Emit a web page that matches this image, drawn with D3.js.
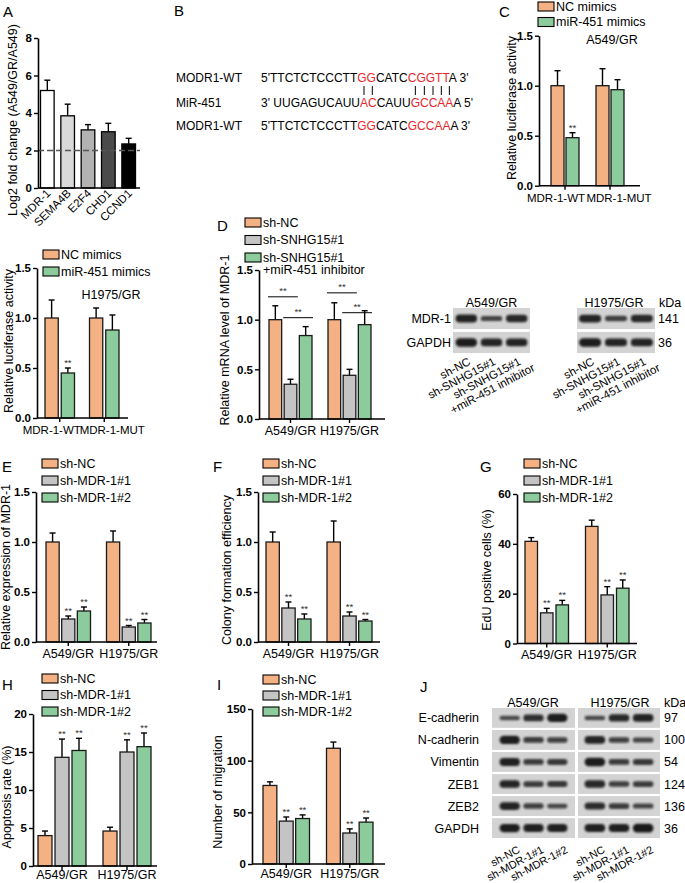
<!DOCTYPE html>
<html><head><meta charset="utf-8">
<script src="https://cdn.jsdelivr.net/npm/d3@7"></script>
<style>body{margin:0;background:#fff} text{font-family:"Liberation Sans",Arial,Helvetica,sans-serif}</style>
</head><body><svg id="c" width="685" height="883"></svg>
<script>
// ---------------- DATA ----------------
const catsA = ["MDR-1","SEMA4B","E2F4","CHD1","CCND1"];
const valsA = [5.2,3.85,3.1,3.0,2.35];
const errsA = [0.55,0.62,0.28,0.45,0.3];
const colorsA = ["#ffffff","#d9d9d9","#b2b2b2","#4a4a4a","#000000"];
const ticksA = [0,2,4,6,8];
const thresholdA = 2;

const seqNames = ["MODR1-WT","MiR-451","MODR1-WT"];
const seqParts = [
  [["5'TTCTCTCCCTT",0],["GG",1],["CATC",0],["CGGTT",1],["A 3'",0]],
  [["3' UUGAGUCAUU",0],["AC",1],["CAUU",0],["GCCAA",1],["A 5'",0]],
  [["5'TTCTCTCCCTT",0],["GG",1],["CATC",0],["GCCAA",1],["A 3'",0]]
];

const lucCats = ["MDR-1-WT","MDR-1-MUT"];
const mimicSeries = ["NC mimics","miR-451 mimics"];
const lucA549 = [[1.0,0.48],[1.0,0.96]];
const lucA549Err = [[0.15,0.05],[0.17,0.10]];
const lucA549Sig = [[0,1],[0,0]];
const lucH1975 = [[1.0,0.45],[1.0,0.88]];
const lucH1975Err = [[0.18,0.05],[0.10,0.15]];
const lucH1975Sig = [[0,1],[0,0]];

const cellCats = ["A549/GR","H1975/GR"];
const snhgSeries = ["sh-NC","sh-SNHG15#1","sh-SNHG15#1|+miR-451 inhibitor"];
const mrnaD = [[1.0,0.35,0.84],[1.0,0.44,0.95]];
const mrnaDErr = [[0.14,0.05,0.09],[0.17,0.06,0.14]];
const mrnaDBrackets = [[[0,1,1.23],[1,2,1.02]],[[0,1,1.27],[1,2,1.07]]];

const mdrSeries = ["sh-NC","sh-MDR-1#1","sh-MDR-1#2"];
const sigMDR = [[0,1,1],[0,1,1]];
const exprE = [[1.0,0.23,0.31],[1.0,0.15,0.19]];
const exprEErr = [[0.09,0.03,0.04],[0.11,0.015,0.035]];
const colonyF = [[1.0,0.34,0.23],[1.0,0.26,0.21]];
const colonyFErr = [[0.10,0.06,0.05],[0.21,0.04,0.015]];
const eduG = [[41,12.3,15.5],[47,19.5,22.2]];
const eduGErr = [[1.5,1.8,1.8],[2.5,3.3,3.3]];
const apopH = [[4.0,14.3,15.2],[4.6,15.0,15.7]];
const apopHErr = [[0.6,2.4,1.6],[0.5,1.6,1.8]];
const migI = [[76,41.5,44],[112,30,40.5]];
const migIErr = [[3.5,4,3.5],[6,4,4]];

const seriesColors = ["#f4b183","#c4c4c4","#8ccb9b"];

const blotDRows = ["MDR-1","GAPDH"];
const blotDkDa = ["141","36"];
const blotDLanes = ["sh-NC","sh-SNHG15#1","sh-SNHG15#1|+miR-451 inhibitor"];
const blotDA549 = [[0.85,0.4,0.75],[0.9,0.8,0.8]];
const blotDH1975 = [[0.8,0.45,0.75],[0.9,0.8,0.8]];

const blotJRows = ["E-cadherin","N-cadherin","Vimentin","ZEB1","ZEB2","GAPDH"];
const blotJkDa = ["97","100","54","124","136","36"];
const blotJLanes = ["sh-NC","sh-MDR-1#1","sh-MDR-1#2"];
const blotJA549 = [[0.3,0.65,0.9],[0.9,0.5,0.45],[0.85,0.5,0.55],[0.8,0.5,0.55],[0.8,0.45,0.35],[0.9,0.85,0.85]];
const blotJH1975 = [[0.3,0.75,0.8],[0.8,0.45,0.4],[0.9,0.5,0.55],[0.75,0.45,0.5],[0.7,0.5,0.4],[0.85,0.85,0.95]];

// ---------------- SETUP ----------------
const svg = d3.select("#c");
svg.append("rect").attr("width",685).attr("height",883).attr("fill","#fff");
const defs = svg.append("defs");
defs.append("filter").attr("id","blur").attr("x","-30%").attr("y","-80%").attr("width","160%").attr("height","260%")
  .append("feGaussianBlur").attr("stdDeviation",0.9);

function text(g,x,y,s,o={}){
  return g.append("text").attr("x",x).attr("y",y).text(s)
    .attr("font-size",o.size||12).attr("text-anchor",o.anchor||"start")
    .attr("font-weight",o.weight||"normal").attr("fill",o.fill||"#000");
}
function vlabel(x,y,s,size){
  svg.append("text").attr("transform",`translate(${x},${y}) rotate(-90)`).attr("text-anchor","middle")
    .attr("font-size",size||12.5).text(s);
}
function styleAxis(ag){
  ag.selectAll(".domain").attr("stroke","#000").attr("stroke-width",1.6);
  ag.selectAll(".tick line").attr("stroke","#000").attr("stroke-width",1.4);
  ag.selectAll(".tick text").attr("font-size",11.5).attr("font-weight","bold").attr("fill","#000")
    .attr("font-family",'"Liberation Sans",Arial,sans-serif');
}
function legend(x,y,dy,items,colors){
  items.forEach((t,i)=>{
    const yy=y+i*dy;
    svg.append("rect").attr("x",x).attr("y",yy).attr("width",16).attr("height",9)
      .attr("fill",colors[i]).attr("stroke","#000").attr("stroke-width",1.1);
    const lines=t.split("|");
    text(svg,x+18,yy+8.5,lines[0],{size:12.5});
    if(lines[1]) text(svg,x+18,yy+8.5+12.5,lines[1],{size:12.5});
  });
}
function letter(x,y,s){ text(svg,x,y,s,{size:15}); }

function barPanel(o){
  const g=svg.append("g");
  const y=d3.scaleLinear().domain([0,o.max]).range([o.y0,o.y1]);
  const n=o.cats.length, m=o.vals[0].length;
  const bw=(o.gx1-o.gx0-(n-1)*o.ggap)/n;
  const x=d3.scaleBand().domain(o.cats).range([o.gx0,o.gx1]).paddingInner(o.ggap/(bw+o.ggap)).paddingOuter(0);
  const barW=(bw-(m-1)*o.bgap)/m;
  const xi=d3.scaleBand().domain(d3.range(m)).range([0,bw]).paddingInner(o.bgap/(barW+o.bgap)).paddingOuter(0);
  o.cats.forEach((c,ci)=>{
    o.vals[ci].forEach((v,si)=>{
      const bx=x(c)+xi(si), cx=bx+barW/2, e=o.errs[ci][si];
      g.append("line").attr("x1",cx).attr("x2",cx).attr("y1",y(v)).attr("y2",y(v+e)).attr("stroke","#000").attr("stroke-width",1.4);
      g.append("line").attr("x1",cx-3).attr("x2",cx+3).attr("y1",y(v+e)).attr("y2",y(v+e)).attr("stroke","#000").attr("stroke-width",1.4);
      g.append("rect").attr("x",bx).attr("y",y(v)).attr("width",barW).attr("height",o.y0-y(v))
        .attr("fill",o.colors[si]).attr("stroke","#1a1a1a").attr("stroke-width",1.3);
      if(o.sig && o.sig[ci][si]) text(g,cx,y(v+e)-2,"**",{size:9.5,anchor:"middle",fill:"#333"});
    });
    if(o.brackets){
      o.brackets[ci].forEach(([a,b,lv])=>{
        const xa=x(c)+xi(a)-1, xb=x(c)+xi(b)+barW+1, yy=y(lv);
        g.append("line").attr("x1",xa).attr("x2",xb).attr("y1",yy).attr("y2",yy).attr("stroke","#000").attr("stroke-width",1);
        text(g,(xa+xb)/2,yy-3,"**",{size:9.5,anchor:"middle",fill:"#333"});
      });
    }
  });
  const ya=g.append("g").attr("transform",`translate(${o.ax0},0)`)
    .call(d3.axisLeft(y).tickValues(o.ticks).tickFormat(o.fmt||d3.format(".1f")).tickSize(4).tickSizeOuter(0).tickPadding(2));
  styleAxis(ya);
  const xa=g.append("g").attr("transform",`translate(0,${o.y0})`)
    .call(d3.axisBottom(x).tickSize(4).tickSizeOuter(0).tickFormat(()=>""));
  xa.select(".domain").attr("d",`M${o.ax0},0H${o.ax1}`);
  styleAxis(xa);
  o.cats.forEach((c,ci)=>text(g,x(c)+bw/2+(o.labOff?o.labOff[ci]:0),o.y0+(o.labDy||16),c,{size:o.labSize||12.5,anchor:"middle"}));
  return {x,y};
}

function drawBlot(x0,x1,yb,rows,intens,pad){
  const g=svg.append("g");
  const lanes=d3.scaleBand().domain([0,1,2]).range([x0+pad,x1-pad]).paddingInner(0.1);
  rows.forEach((r,ri)=>{
    g.append("rect").attr("x",x0).attr("y",yb(r)).attr("width",x1-x0).attr("height",yb.bandwidth()).attr("fill","#d3d3d3");
    intens[ri].forEach((v,li)=>{
      const h=2.5+6.5*v, cx=lanes(li)+lanes.bandwidth()/2, cy=yb(r)+yb.bandwidth()/2, w=lanes.bandwidth()*0.95;
      g.append("rect").attr("x",cx-w/2).attr("y",cy-h/2).attr("width",w).attr("height",h).attr("rx",h/2)
        .attr("fill","#141414").attr("opacity",0.6+0.4*v).attr("filter","url(#blur)");
    });
  });
  return lanes;
}
function laneLabels(lanes,texts,dx,y,size){
  texts.forEach((t,i)=>{
    const lines=t.split("|");
    const cx=lanes(i)+lanes.bandwidth()/2+dx;
    const gg=svg.append("g").attr("transform",`translate(${cx},${y}) rotate(-28)`);
    const t1=text(gg,0,0,lines[0],{size:size,anchor:"end"});
    if(lines[1]){ const w=t1.node().getComputedTextLength(); text(gg,-w/2,12,lines[1],{size:size,anchor:"middle"}); }
  });
}

// ---------------- PANEL A ----------------
letter(3,17,"A");
{
  const y=d3.scaleLinear().domain([0,8]).range([188,38]);
  const x=d3.scaleBand().domain(catsA).range([40.5,135.5]).paddingInner(0.33).paddingOuter(0);
  catsA.forEach((c,i)=>{
    const cx=x(c)+x.bandwidth()/2;
    svg.append("line").attr("x1",cx).attr("x2",cx).attr("y1",y(valsA[i])).attr("y2",y(valsA[i]+errsA[i])).attr("stroke","#000").attr("stroke-width",1.4);
    svg.append("line").attr("x1",cx-3).attr("x2",cx+3).attr("y1",y(valsA[i]+errsA[i])).attr("y2",y(valsA[i]+errsA[i])).attr("stroke","#000").attr("stroke-width",1.4);
    svg.append("rect").attr("x",x(c)).attr("y",y(valsA[i])).attr("width",x.bandwidth()).attr("height",188-y(valsA[i]))
      .attr("fill",colorsA[i]).attr("stroke","#000").attr("stroke-width",1.3);
    svg.append("text").attr("transform",`translate(${cx+4},${194}) rotate(-45)`).attr("text-anchor","end").attr("font-size",11.5).text(c);
  });
  svg.append("line").attr("x1",38).attr("x2",140).attr("y1",y(thresholdA)).attr("y2",y(thresholdA))
    .attr("stroke","#555").attr("stroke-width",1.3).attr("stroke-dasharray","6,3");
  const ya=svg.append("g").attr("transform","translate(38,0)").call(d3.axisLeft(y).tickValues(ticksA).tickSize(4).tickSizeOuter(0).tickPadding(2));
  styleAxis(ya);
  const xa=svg.append("g").attr("transform","translate(0,188)").call(d3.axisBottom(x).tickSize(0).tickFormat(()=>""));
  xa.select(".domain").attr("d","M38,0H140");
  styleAxis(xa);
  vlabel(17,120,"Log2 fold change (A549/GR/A549)",12.5);
}

// ---------------- PANEL B ----------------
letter(174,16,"B");
{
  const baselines=[82,107,130];
  const nodes=[];
  seqNames.forEach((nm,i)=>{
    text(svg,176,baselines[i],nm,{size:12});
    const t=svg.append("text").attr("x",261).attr("y",baselines[i]).attr("font-size",12);
    seqParts[i].forEach(([s,red])=>t.append("tspan").text(s).attr("fill",red?"#e8262b":"#000"));
    nodes.push(t.node());
  });
  const n2=nodes[1]; let idx=0;
  seqParts[1].forEach(([s,red])=>{
    for(let k=0;k<s.length;k++){
      if(red){
        const a=n2.getStartPositionOfChar(idx).x, b=n2.getEndPositionOfChar(idx).x, cx=(a+b)/2;
        svg.append("line").attr("x1",cx).attr("x2",cx).attr("y1",86).attr("y2",95).attr("stroke","#000").attr("stroke-width",1);
      }
      idx++;
    }
  });
}

// ---------------- PANEL C ----------------
letter(499,17,"C");
legend(538,2,15.5,mimicSeries,[seriesColors[0],seriesColors[2]]);
barPanel({cats:lucCats,vals:lucA549,errs:lucA549Err,sig:lucA549Sig,colors:[seriesColors[0],seriesColors[2]],
  max:1.5,ticks:[0,0.5,1,1.5],ax0:539,ax1:640,y0:185.7,y1:35.7,gx0:551,gx1:624,ggap:17,bgap:2,labDy:16,labSize:11.5,labOff:[-9,9]});
text(svg,612,44,"A549/GR",{size:12.5,anchor:"middle"});
vlabel(516,108,"Relative luciferase activity",12.5);

// ---------------- ROW 2 LEFT ----------------
legend(43,250,17,mimicSeries,[seriesColors[0],seriesColors[2]]);
barPanel({cats:lucCats,vals:lucH1975,errs:lucH1975Err,sig:lucH1975Sig,colors:[seriesColors[0],seriesColors[2]],
  max:1.5,ticks:[0,0.5,1,1.5],ax0:37,ax1:128,y0:418,y1:268,gx0:45,gx1:119,ggap:15,bgap:3,labDy:16,labSize:11.5,labOff:[-8,8]});
text(svg,111,299,"H1975/GR",{size:12.5,anchor:"middle"});
vlabel(13,341,"Relative luciferase activity",12.5);

// ---------------- PANEL D ----------------
letter(217,231,"D");
legend(245,218,17.5,snhgSeries,seriesColors);
barPanel({cats:cellCats,vals:mrnaD,errs:mrnaDErr,brackets:mrnaDBrackets,colors:seriesColors,
  max:1.5,ticks:[0,0.5,1,1.5],ax0:259,ax1:385,y0:419,y1:270,gx0:269,gx1:371,ggap:16,bgap:2.5,labDy:16});
vlabel(229,340,"Relative mRNA level of MDR-1",12.5);

// Western blot D
{
  const yb=d3.scaleBand().domain(blotDRows).range([308,353]).paddingInner(0.12);
  const l1=drawBlot(453,530,yb,blotDRows,blotDA549,2);
  const l2=drawBlot(577,655,yb,blotDRows,blotDH1975,1.5);
  blotDRows.forEach((r,i)=>{
    text(svg,451,yb(r)+yb.bandwidth()/2+4.5,r,{size:12.5,anchor:"end"});
    text(svg,658,yb(r)+yb.bandwidth()/2+4.5,blotDkDa[i],{size:12.5});
  });
  text(svg,491.5,307,"A549/GR",{size:12.5,anchor:"middle"});
  text(svg,614,307,"H1975/GR",{size:12.5,anchor:"middle"});
  text(svg,659,307,"kDa",{size:12.5});
  laneLabels(l1,blotDLanes,5,364,11.5);
  laneLabels(l2,blotDLanes,5,364,11.5);
}

// ---------------- PANEL E ----------------
letter(2,472,"E");
legend(42,459,17,mdrSeries,seriesColors);
barPanel({cats:cellCats,vals:exprE,errs:exprEErr,sig:sigMDR,colors:seriesColors,
  max:1.5,ticks:[0,0.5,1,1.5],ax0:36,ax1:157,y0:642,y1:492,gx0:46,gx1:151,ggap:16,bgap:2.5,labDy:16});
vlabel(10,567,"Relative expression of MDR-1",12.5);

// ---------------- PANEL F ----------------
letter(213,472,"F");
legend(263,459,17,mdrSeries,seriesColors);
barPanel({cats:cellCats,vals:colonyF,errs:colonyFErr,sig:sigMDR,colors:seriesColors,
  max:1.5,ticks:[0,0.5,1,1.5],ax0:258,ax1:380,y0:642,y1:492,gx0:266,gx1:372,ggap:16,bgap:2.5,labDy:16});
vlabel(231,570,"Colony formation efficiency",12.5);

// ---------------- PANEL G ----------------
letter(480,472,"G");
legend(524,459,17,mdrSeries,seriesColors);
barPanel({cats:cellCats,vals:eduG,errs:eduGErr,sig:sigMDR,colors:seriesColors,fmt:d3.format("d"),
  max:60,ticks:[0,20,40,60],ax0:517,ax1:637,y0:643.5,y1:494,gx0:525,gx1:629,ggap:17,bgap:3,labDy:15});
vlabel(491,570,"EdU positive cells (%)",12.5);

// ---------------- PANEL H ----------------
letter(2,690,"H");
legend(42,674,16.5,mdrSeries,seriesColors);
barPanel({cats:cellCats,vals:apopH,errs:apopHErr,sig:sigMDR,colors:seriesColors,fmt:d3.format("d"),
  max:20,ticks:[0,5,10,15,20],ax0:33,ax1:157,y0:866,y1:714,gx0:38,gx1:151,ggap:17,bgap:3,labDy:13});
vlabel(11,797,"Apoptosis rate (%)",12.5);

// ---------------- PANEL I ----------------
letter(217,690,"I");
legend(263,675,16,mdrSeries,seriesColors);
barPanel({cats:cellCats,vals:migI,errs:migIErr,sig:sigMDR,colors:seriesColors,fmt:d3.format("d"),
  max:150,ticks:[0,50,100,150],ax0:252,ax1:385,y0:864,y1:709,gx0:263,gx1:373,ggap:17,bgap:2.5,labDy:14});
vlabel(222,792,"Number of migration",12.5);

// ---------------- PANEL J ----------------
letter(420,692,"J");
{
  const yb=d3.scaleBand().domain(blotJRows).range([708,838]).paddingInner(0.1);
  const l1=drawBlot(492,575,yb,blotJRows,blotJA549,7);
  const l2=drawBlot(578,660,yb,blotJRows,blotJH1975,6);
  blotJRows.forEach((r,i)=>{
    text(svg,479,yb(r)+yb.bandwidth()/2+4.5,r,{size:12.5,anchor:"end"});
    text(svg,664,yb(r)+yb.bandwidth()/2+4.5,blotJkDa[i],{size:12.5});
  });
  text(svg,533,707,"A549/GR",{size:12.5,anchor:"middle"});
  text(svg,620,707,"H1975/GR",{size:12.5,anchor:"middle"});
  text(svg,664,707,"kDa",{size:12.5});
  laneLabels(l1,blotJLanes,11,852,11);
  laneLabels(l2,blotJLanes,11,852,11);
}
</script></body></html>
